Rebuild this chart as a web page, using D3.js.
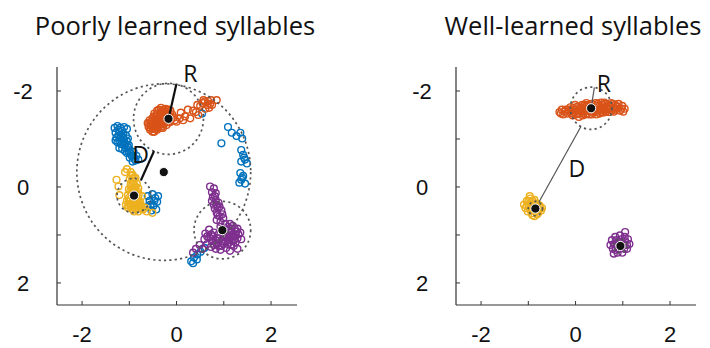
<!DOCTYPE html>
<html>
<head>
<meta charset="utf-8">
<script src="https://cdn.jsdelivr.net/npm/d3@7"></script>
<style>
  body { margin: 0; background: #fff; }
  .title { font-family: "Open Sans", sans-serif; fill: #111; }
  .tick-label { font-family: "Liberation Sans", Arial, sans-serif; font-size: 22px; fill: #111; }
  .mark-label { font-family: "Open Sans", sans-serif; font-size: 23px; fill: #111; }
</style>
</head>
<body>
<div id="chart"></div>
<script>
// values (axis units, y axis reversed)
var xTicks = [-2, -1, 0, 1, 2];
var yTicks = [-2, -1, 0, 1, 2];
var tickLabels = ["-2", "", "0", "", "2"];
var titles = ["Poorly learned syllables", "Well-learned syllables"];

// matlab default colours
var syllableColors = ["#D95319", "#0072BD", "#EDB120", "#7E2F8E"];

// ---- poorly learned panel
var poorOrange = [
  [-0.60,-1.32],[-0.58,-1.24],[-0.55,-1.18],[-0.52,-1.28],[-0.50,-1.36],[-0.48,-1.20],[-0.46,-1.14],
  [-0.44,-1.26],[-0.42,-1.34],[-0.40,-1.18],[-0.38,-1.42],[-0.36,-1.28],[-0.34,-1.50],[-0.32,-1.22],
  [-0.30,-1.38],[-0.28,-1.56],[-0.26,-1.30],[-0.24,-1.46],[-0.22,-1.62],[-0.20,-1.40],[-0.18,-1.52],
  [-0.16,-1.34],[-0.14,-1.46],[-0.12,-1.58],[-0.10,-1.40],[-0.36,-1.60],[-0.30,-1.48],[-0.42,-1.46],
  [-0.50,-1.42],[-0.56,-1.38],[-0.46,-1.52],[-0.40,-1.58],[-0.32,-1.64],[-0.26,-1.60],[-0.20,-1.28],
  [-0.28,-1.22],[-0.38,-1.32],[-0.48,-1.28],[-0.54,-1.22],[-0.44,-1.40],[-0.34,-1.40],[-0.24,-1.38],
  [-0.16,-1.60],[-0.08,-1.50],[-0.50,-1.14],
  [-0.57,-1.30],[-0.53,-1.34],[-0.49,-1.24],[-0.45,-1.32],[-0.41,-1.24],[-0.37,-1.36],[-0.33,-1.30],
  [-0.29,-1.44],[-0.25,-1.52],[-0.21,-1.46],[-0.17,-1.40],[-0.13,-1.34],[-0.27,-1.34],[-0.35,-1.46],
  [-0.43,-1.20],[-0.39,-1.52],[-0.31,-1.56],[-0.23,-1.56],[-0.19,-1.34],[-0.11,-1.46],[-0.47,-1.46],
  [-0.53,-1.26],[-0.45,-1.36],[-0.37,-1.24],[-0.29,-1.26],[-0.23,-1.42],[-0.33,-1.52],[-0.41,-1.40],
  [-0.05,-1.44],[-0.02,-1.38],
  [0.01,-1.35],[0.08,-1.42],[0.15,-1.38],[0.19,-1.46],[0.30,-1.42],[0.36,-1.58],[0.42,-1.55],
  [0.47,-1.49],[0.51,-1.68],[0.56,-1.74],[0.61,-1.77],[0.68,-1.78],[0.72,-1.72],[0.62,-1.62],
  [0.70,-1.64],[0.76,-1.70],[0.86,-1.80],[0.25,-1.60],[0.10,-1.54],[0.45,-1.70],[0.58,-1.80],
  [0.66,-1.70],[0.74,-1.80]
];
var poorBlue = [
  [-1.30,-1.22],[-1.24,-1.26],[-1.18,-1.22],[-1.10,-1.24],[-1.04,-1.20],[-1.28,-1.12],[-1.20,-1.14],
  [-1.12,-1.10],[-1.06,-1.06],[-1.26,-1.02],[-1.18,-1.00],[-1.10,-0.98],[-1.02,-1.00],[-1.24,-0.92],
  [-1.16,-0.88],[-1.08,-0.90],[-1.00,-0.86],[-1.14,-0.78],[-1.06,-0.80],[-0.98,-0.76],[-1.04,-0.70],
  [-0.96,-0.68],[-0.90,-0.72],[-0.98,-0.60],[-0.90,-0.62],[-0.86,-0.54],[-0.80,-0.56],[-0.92,-0.52],
  [-1.20,-0.80],[-1.28,-0.96],[-0.84,-0.64],
  [-1.22,-1.18],[-1.14,-1.16],[-1.16,-1.06],[-1.22,-1.06],[-1.12,-1.02],[-1.14,-0.94],[-1.04,-0.94],
  [-1.20,-0.94],[-1.10,-0.86],[-1.02,-0.82],[-1.08,-0.74],[-1.00,-0.72],[-0.94,-0.64],[-0.88,-0.58],
  [1.10,-1.24],[1.18,-1.12],[1.28,-1.05],[1.36,-1.12],[1.40,-1.00],[0.96,-0.90],[1.38,-0.76],
  [1.42,-0.66],[1.46,-0.56],[1.38,-0.52],[1.50,-0.48],[1.36,-0.28],[1.42,-0.22],[1.38,-0.14],
  [1.34,-0.08],[1.46,-0.06],[1.40,-0.18],[1.44,-0.60],
  [-0.60,0.20],[-0.50,0.16],[-0.44,0.24],[-0.56,0.30],[-0.40,0.32],[-0.48,0.40],[-0.60,0.42],
  [-0.42,0.48],[-0.52,0.50],[-0.38,0.20],[-0.46,0.30],[-0.54,0.38],
  [0.32,1.56],[0.38,1.48],[0.45,1.42],[0.52,1.36],[0.60,1.28],[0.36,1.60],[0.44,1.52],
  [0.55,-1.52]
];
var poorYellow = [
  [-1.26,-0.14],[-1.04,-0.36],[-1.08,-0.30],[-1.22,0.00],[-0.96,-0.30],[-0.92,-0.24],[-0.98,-0.16],
  [-0.90,-0.10],[-0.96,-0.04],[-0.86,0.00],[-1.00,0.06],[-0.92,0.08],[-0.82,0.10],[-1.02,0.18],
  [-0.96,0.26],[-0.80,0.24],[-0.76,0.32],[-0.98,0.36],[-0.88,0.40],[-0.78,0.42],[-0.92,0.48],
  [-0.80,0.52],[-0.70,0.48],[-0.50,0.55],[-0.62,0.52],[-1.02,0.44],[-0.86,0.30],[-0.90,-0.04],
  [-1.04,0.30],[-0.72,0.20],[-0.94,0.14],[-0.84,0.16],[-0.88,0.22],[-1.00,0.24],[-0.92,0.32],
  [-0.82,0.36],[-0.96,0.42],[-0.86,0.46],[-0.74,0.40],[-0.88,0.06],[-0.80,0.04],[-1.06,0.38],
  [-0.86,-0.18],[-1.20,0.18],[-0.66,0.44],
  [-0.95,0.00],[-0.91,0.04],[-0.87,0.10],[-0.97,0.10],[-0.93,0.20],[-0.85,0.26],[-0.99,0.30],
  [-0.89,0.34],[-0.81,0.30],[-0.95,0.38],[-0.85,0.40],[-0.91,0.44],[-0.83,0.46],[-0.89,0.52],
  [-0.77,0.36],[-0.93,-0.12],[-0.89,-0.18],[-0.95,-0.22],[-0.83,-0.06],[-0.79,0.16],[-1.01,0.40],
  [-0.75,0.46]
];
var poorPurple = [
  [0.72,0.00],[0.80,0.04],[0.76,0.12],[0.84,0.14],[0.78,0.22],[0.84,0.28],[0.90,0.34],[0.80,0.38],
  [0.88,0.44],[0.96,0.50],[0.86,0.54],[0.92,0.62],[1.00,0.66],[0.94,0.74],[1.04,0.78],[0.82,0.46],
  [0.92,0.42],[0.76,0.30],
  [1.10,0.84],[1.20,0.82],[1.30,0.88],[1.36,0.96],[1.26,1.00],[1.16,1.04],[1.30,1.08],[1.20,1.14],
  [1.10,1.12],[1.00,1.04],[0.90,1.00],[0.80,0.96],[0.70,0.90],[0.62,0.98],[0.70,1.06],[0.60,1.10],
  [0.76,1.14],[0.86,1.18],[0.96,1.24],[1.06,1.28],[0.66,1.20],[0.50,1.22],[0.42,1.30],[0.56,1.30],
  [0.36,1.38],[1.12,0.96],[1.38,1.10],[0.98,1.14],[1.08,1.04],[1.18,0.94],[1.28,0.94],[0.88,1.08],
  [0.78,1.04],[1.16,1.22],[1.26,1.16],[1.22,1.24],[0.74,1.26],[0.84,1.30],[0.94,1.32],[1.14,0.78],
  [1.04,0.90],[1.30,1.30],[1.14,1.34],
  [1.14,0.88],[1.24,0.88],[1.32,1.00],[1.22,1.04],[1.12,1.06],[1.24,1.10],[1.16,1.12],[1.06,1.14],
  [1.00,1.20],[0.92,1.08],[0.84,1.12],[0.74,1.00],[0.66,1.04],[0.80,1.22],[0.90,1.24],[1.10,1.20],
  [1.20,1.00],[0.94,0.84],[0.86,0.70],[0.98,0.58],[0.88,0.60],[0.82,0.20],[0.86,0.38]
];
// centroid x, y and spread radius per syllable (orange, blue, yellow, purple)
var poorCentroids = [[-0.16,-1.41],[-0.26,-0.30],[-0.89,0.19],[0.98,0.91]];
var poorRadii = [0.74, 1.84, 0.36, 0.60];

// ---- well-learned panel
var wellOrange = [
  [-0.33,-1.55],[-0.25,-1.50],[-0.20,-1.60],[-0.12,-1.55],[-0.05,-1.48],[0.00,-1.60],[0.05,-1.52],
  [0.10,-1.65],[0.15,-1.58],[0.20,-1.70],[0.22,-1.50],[0.28,-1.62],[0.35,-1.72],[0.40,-1.55],
  [0.45,-1.68],[0.50,-1.60],[0.55,-1.75],[0.60,-1.65],[0.65,-1.55],[0.70,-1.70],[0.75,-1.62],
  [0.80,-1.72],[0.85,-1.60],[0.90,-1.66],[0.95,-1.58],[1.00,-1.68],[-0.10,-1.65],[0.08,-1.45],
  [0.30,-1.50],[0.62,-1.75],[0.15,-1.70],[0.45,-1.50],[-0.28,-1.60],[0.72,-1.55],[1.05,-1.62],
  [0.00,-1.70],[0.38,-1.62],[0.55,-1.55],[0.25,-1.58],[0.85,-1.70],[-0.02,-1.55],[0.12,-1.60],
  [0.18,-1.52],[0.32,-1.68],[0.48,-1.72],[0.58,-1.62],[0.68,-1.62],[0.78,-1.58],[-0.16,-1.52],
  [-0.30,-1.52],[-0.22,-1.56],[-0.14,-1.60],[-0.08,-1.58],[-0.04,-1.64],[0.02,-1.50],[0.06,-1.58],
  [0.10,-1.52],[0.14,-1.64],[0.18,-1.60],[0.22,-1.66],[0.26,-1.52],[0.28,-1.70],[0.34,-1.56],
  [0.42,-1.60],[0.44,-1.74],[0.50,-1.66],[0.52,-1.52],[0.58,-1.70],[0.62,-1.58],[0.66,-1.66],
  [0.70,-1.60],[0.74,-1.68],[0.80,-1.64],[0.82,-1.56],[0.88,-1.62],[0.92,-1.72],[0.98,-1.62],
  [1.02,-1.56],[0.04,-1.66],[0.16,-1.48],[0.24,-1.74],[0.36,-1.50],[0.54,-1.60],[0.64,-1.72],
  [0.76,-1.74],[-0.06,-1.52],[0.20,-1.56],[0.46,-1.56],[0.60,-1.54]
];
var wellYellow = [
  [-0.95,0.25],[-1.02,0.30],[-0.90,0.30],[-0.98,0.40],[-1.05,0.45],[-0.75,0.40],[-0.72,0.50],
  [-0.80,0.58],[-0.90,0.60],[-0.85,0.35],[-1.00,0.52],[-0.70,0.45],[-0.92,0.45],[-0.78,0.48],
  [-0.86,0.62],[-0.96,0.20],[-1.08,0.38],
  [-0.94,0.35],[-0.88,0.40],[-0.82,0.42],[-0.90,0.50],[-0.84,0.52],[-0.96,0.48],[-0.78,0.55],
  [-0.98,0.30],[-0.86,0.28],[-0.80,0.36],[-1.02,0.40],[-0.92,0.56],[-0.74,0.45]
];
var wellPurple = [
  [0.78,1.12],[0.85,1.05],[0.95,1.02],[1.05,1.05],[1.12,1.10],[1.15,1.20],[1.10,1.30],[1.00,1.38],
  [0.90,1.38],[0.80,1.30],[0.75,1.22],[0.85,1.20],[1.05,1.22],[0.92,1.15],[1.06,0.95],[0.82,1.40],
  [0.88,1.12],[0.98,1.10],[1.06,1.14],[0.82,1.20],[0.94,1.30],[1.04,1.30],[0.86,1.32],[1.10,1.22],
  [0.96,1.18],[0.90,1.24]
];
var wellCentroids = [[0.34,-1.63], null, [-0.84,0.46], [0.96,1.24]];
var wellRadii = [0.44, 0, 0.15, 0.14];

// R / D annotations: label centres in axis units
var poorLabels = {R: [0.30,-2.36], D: [-0.75,-0.66]};
var wellLabels = {R: [0.61,-2.15], D: [0.04,-0.38]};

// ---------------------------------------------------------------
var W = 710, H = 348;
var svg = d3.select("#chart").append("svg")
  .attr("width", W).attr("height", H);

var panels = [
  {title: titles[0], titleSize: 25.5, x0: 57, x1: 297, cx: 175,
   points: [poorBlue, poorOrange, poorYellow, poorPurple], order: [1,0,2,3],
   centroids: poorCentroids, radii: poorRadii, labels: poorLabels,
   rAngle: 13, lineColor: "#111", lineWidth: 2.2},
  {title: titles[1], titleSize: 25.5, x0: 456, x1: 696, cx: 573,
   points: [wellOrange, wellYellow, wellPurple], order: [0,2,3],
   centroids: wellCentroids, radii: wellRadii, labels: wellLabels,
   rAngle: 9, lineColor: "#555", lineWidth: 1.2}
];

panels.forEach(function(p) {
  var x = d3.scaleLinear().domain([-2.52, 2.56]).range([p.x0, p.x1]);
  var y = d3.scaleLinear().domain([-2.49, 2.47]).range([67, 305]);
  var kx = x(1) - x(0), ky = y(1) - y(0);
  var g = svg.append("g");

  g.append("text").attr("class", "title")
    .attr("x", p.cx).attr("y", 35)
    .attr("text-anchor", "middle")
    .style("font-size", p.titleSize + "px")
    .text(p.title);

  // axes: inward ticks, labels only on even values
  var xAxis = d3.axisBottom(x).tickValues(xTicks).tickSize(-4)
    .tickFormat(function(d, i) { return tickLabels[i]; });
  var yAxis = d3.axisLeft(y).tickValues(yTicks).tickSize(-4)
    .tickFormat(function(d, i) { return tickLabels[i]; });

  var gx = g.append("g").attr("transform", "translate(0,305)").call(xAxis);
  var gy = g.append("g").attr("transform", "translate(" + p.x0 + ",0)").call(yAxis);
  [gx, gy].forEach(function(a) {
    a.select(".domain").remove();
    a.selectAll(".tick line").attr("stroke", "#333");
    a.selectAll(".tick text").attr("class", "tick-label").attr("fill", null);
  });
  g.append("line").attr("x1", p.x0).attr("x2", p.x1).attr("y1", 305).attr("y2", 305)
    .attr("stroke", "#333").attr("stroke-width", 1.2);
  g.append("line").attr("x1", p.x0).attr("x2", p.x0).attr("y1", 67).attr("y2", 305)
    .attr("stroke", "#333").attr("stroke-width", 1.2);
  gx.selectAll(".tick text").attr("y", 37).attr("dy", null);
  gy.selectAll(".tick text").attr("x", -34).attr("text-anchor", "middle").attr("dy", "0.36em");

  // scatter of every rendition, as open circles
  p.points.forEach(function(pts, k) {
    var col = syllableColors[p.order[k]];
    g.append("g").selectAll("circle")
      .data(pts)
      .enter().append("circle")
      .attr("cx", function(d) { return x(d[0]); })
      .attr("cy", function(d) { return y(d[1]); })
      .attr("r", 3.4)
      .attr("fill", "none")
      .attr("stroke", col)
      .attr("stroke-width", 1.4);
  });

  // spread circles (dotted) around each centroid
  var cents = p.centroids.map(function(c, i) { return c ? {c: c, r: p.radii[i]} : null; })
    .filter(function(d) { return d; });
  g.append("g").selectAll("ellipse")
    .data(cents)
    .enter().append("ellipse")
    .attr("cx", function(d) { return x(d.c[0]); })
    .attr("cy", function(d) { return y(d.c[1]); })
    .attr("rx", function(d) { return d.r * kx; })
    .attr("ry", function(d) { return d.r * ky; })
    .attr("fill", "none")
    .attr("stroke", "#555")
    .attr("stroke-width", 1.7)
    .attr("stroke-dasharray", "2.2,3.2");

  // D: gap between orange and yellow spread circles
  var a = p.centroids[0], b = p.centroids[2];
  var ax = x(a[0]), ay = y(a[1]), bx = x(b[0]), by = y(b[1]);
  var len = Math.hypot(bx - ax, by - ay), ux = (bx - ax) / len, uy = (by - ay) / len;
  var kAvg = (kx + ky) / 2;
  g.append("line")
    .attr("x1", ax + ux * p.radii[0] * kAvg).attr("y1", ay + uy * p.radii[0] * kAvg)
    .attr("x2", bx - ux * p.radii[2] * kAvg).attr("y2", by - uy * p.radii[2] * kAvg)
    .attr("stroke", p.lineColor).attr("stroke-width", p.lineWidth);

  // R: radius of the orange circle
  var ang = p.rAngle * Math.PI / 180;
  g.append("line")
    .attr("x1", ax).attr("y1", ay)
    .attr("x2", ax + Math.sin(ang) * p.radii[0] * kx)
    .attr("y2", ay - Math.cos(ang) * p.radii[0] * ky)
    .attr("stroke", p.lineColor).attr("stroke-width", p.lineWidth);

  // centroids
  g.append("g").selectAll("circle")
    .data(cents)
    .enter().append("circle")
    .attr("cx", function(d) { return x(d.c[0]); })
    .attr("cy", function(d) { return y(d.c[1]); })
    .attr("r", 4.6)
    .attr("fill", "#111")
    .attr("stroke", "#fff")
    .attr("stroke-width", 1);

  ["R", "D"].forEach(function(k) {
    g.append("text").attr("class", "mark-label")
      .attr("x", x(p.labels[k][0])).attr("y", y(p.labels[k][1]))
      .attr("text-anchor", "middle").attr("dy", "0.36em")
      .text(k);
  });
});
</script>
</body>
</html>
